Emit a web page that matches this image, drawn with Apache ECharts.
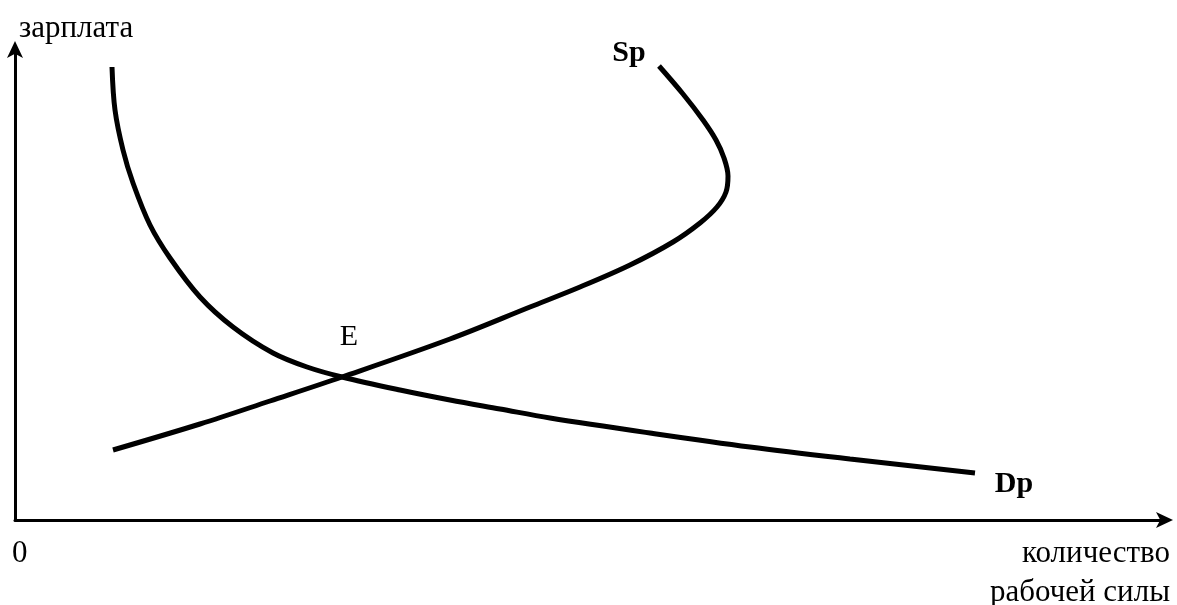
<!DOCTYPE html>
<html>
<head>
<meta charset="utf-8">
<script src="https://cdn.jsdelivr.net/npm/echarts@6/dist/echarts.min.js"></script>
<style>
  html, body { margin: 0; padding: 0; background: #fff; }
  #chart { width: 1177px; height: 605px; }
</style>
</head>
<body>
<div id="chart"></div>
<script>
// кривая спроса на труд (Dp)
const demandPoints = [
  [97, 453], [100, 410], [108, 370], [118, 337], [135, 295], [155, 262],
  [185, 223], [218, 193], [258, 167], [292, 153], [327, 143], [385, 130],
  [435, 120], [485, 111], [535, 102], [635, 87], [735, 73], [835, 61], [960, 47]
]
// кривая предложения труда (Sp), загибается назад
const supplyPoints = [
  [98, 70], [185, 96], [255, 119], [327, 143], [435, 181], [515, 213],
  [565, 233], [615, 255], [658, 278], [685, 297], [702, 313], [711, 328],
  [713, 344], [709, 362], [701, 380], [688, 400], [668, 426], [644, 454]
]
const axisNames = { y: 'зарплата', x1: 'количество', x2: 'рабочей силы', origin: '0' }
const curveNames = { demand: 'Dp', supply: 'Sp', eq: 'E' }

const font = '"Liberation Serif", "DejaVu Serif", serif'
const myChart = echarts.init(document.getElementById('chart'))

const axisCommon = {
  type: 'value',
  axisLine: { lineStyle: { color: '#000', width: 3 }, symbol: ['none', 'arrow'], symbolSize: [12, 17], symbolOffset: [0, 6] },
  axisTick: { show: false }, axisLabel: { show: false }, splitLine: { show: false }
}

function txt(x, y, text, size, opts) {
  return {
    type: 'text', x: x, y: y,
    style: Object.assign({ text: text, font: size + 'px ' + font, fill: '#000', align: 'left', verticalAlign: 'middle' }, opts || {})
  }
}

const option = {
  animation: false,
  grid: { left: 15, top: 47, right: 10, bottom: 85 },
  xAxis: Object.assign({ min: 0, max: 1152 }, axisCommon),
  yAxis: Object.assign({ min: 0, max: 473 }, axisCommon),
  series: [
    {
      name: curveNames.demand, type: 'line', smooth: 0.35, symbol: 'none',
      lineStyle: { color: '#000', width: 5, cap: 'butt' },
      data: demandPoints
    },
    {
      name: curveNames.supply, type: 'line', smooth: 0.35, symbol: 'none',
      lineStyle: { color: '#000', width: 5, cap: 'butt' },
      data: supplyPoints
    }
  ],
  graphic: [
    txt(19, 29, axisNames.y, 31),
    txt(12, 554, axisNames.origin, 31),
    txt(1170, 554, axisNames.x1, 31, { align: 'right' }),
    txt(1170, 593, axisNames.x2, 31, { align: 'right' }),
    txt(349, 337, curveNames.eq, 30, { align: 'center' }),
    txt(629, 53, curveNames.supply, 30, { align: 'center', font: 'bold 30px ' + font }),
    txt(1014, 484, curveNames.demand, 30, { align: 'center', font: 'bold 30px ' + font })
  ]
}
myChart.setOption(option)
</script>
</body>
</html>
